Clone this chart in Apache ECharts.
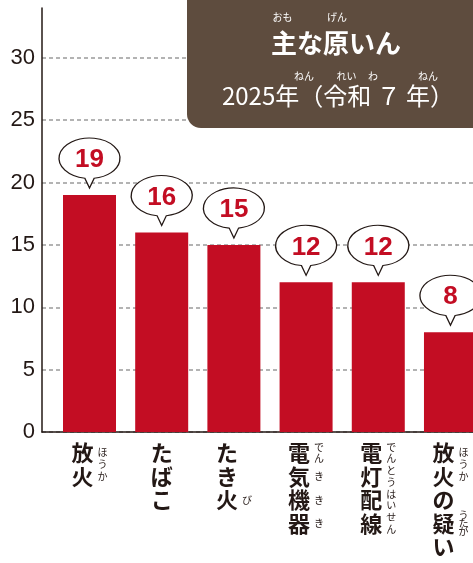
<!DOCTYPE html>
<html>
<head>
<meta charset="utf-8">
<script src="https://cdn.jsdelivr.net/npm/echarts@6/dist/echarts.min.js"></script>
<style>
html, body { margin: 0; padding: 0; background: #fff; }
#chart { width: 473px; height: 563px; }
</style>
</head>
<body>
<div id="chart"></div>
<script>
// 出火原因の件数
var categories = ['放火', 'たばこ', 'たき火', '電気機器', '電灯配線', '放火の疑い'];
var counts = [19, 16, 15, 12, 12, 8];
// ふりがな: [よみ, 何文字目から, 何文字目まで]
var readings = [
    [['ほうか', 0, 2]],
    [],
    [['び', 2, 3]],
    [['でん', 0, 1], ['き', 1, 2], ['き', 2, 3], ['き', 3, 4]],
    [['でんとうはいせん', 0, 4]],
    [['ほうか', 0, 2], ['うたが', 3, 4]]
];
var yTicks = [0, 5, 10, 15, 20, 25, 30];

var RED = '#c30d23';
var INK = '#231815';
var JP = '"Noto Sans CJK JP", sans-serif';
var LINE = 23.5;      // 縦書きラベルの行送り
var MARGIN = 9;
var BUBBLE = 'path://M25.5,40.3A29.5,20,0,1,1,34.5,40.3L30,50Z';

var chart = echarts.init(document.getElementById('chart'));
var barData = counts.map(function (v, i) { return [i, v]; });

var option = {
    animation: false,
    grid: { left: 42, right: 0, top: 8, bottom: 131 },
    xAxis: {
        type: 'value',
        min: -0.658,
        max: 5.312,
        axisLine: { show: true, onZero: false, lineStyle: { color: INK, width: 1.5 } },
        axisTick: { show: false },
        splitLine: { show: false },
        axisLabel: {
            customValues: categories.map(function (c, i) { return i; }),
            margin: MARGIN,
            verticalAlign: 'top',
            formatter: function (v) {
                var name = categories[v];
                if (!name) return '';
                var key = readings[v].length ? 'r' : 'c';
                return '{' + key + '|' + name.split('').join('\n') + '}';
            },
            rich: {
                r: { fontSize: 22, fontWeight: 'bold', fontFamily: JP, color: INK, lineHeight: LINE, padding: [0, 14, 0, 0] },
                c: { fontSize: 22, fontWeight: 'bold', fontFamily: JP, color: INK, lineHeight: LINE }
            }
        }
    },
    yAxis: {
        type: 'value',
        min: 0,
        max: 34,
        interval: 5,
        axisLine: { show: true, onZero: false, lineStyle: { color: INK, width: 1.5 } },
        axisTick: { show: false },
        splitLine: {
            show: true,
            showMaxLine: false,
            lineStyle: { type: [4, 3], color: '#9a9a9a', width: 1.5 }
        },
        axisLabel: {
            customValues: yTicks,
            margin: 7,
            fontSize: 22,
            color: INK,
            fontFamily: '"Liberation Sans", Arial, sans-serif'
        }
    },
    series: [
        {
            type: 'bar',
            data: barData,
            barWidth: 53,
            itemStyle: { color: RED },
            z: 2
        },
        {
            // 吹き出し
            type: 'scatter',
            data: barData,
            symbol: BUBBLE,
            symbolSize: [61, 50],
            symbolOffset: [0, -32],
            clip: false,
            itemStyle: { color: '#fff', borderColor: INK, borderWidth: 1.2, opacity: 1 },
            label: {
                show: true,
                position: 'inside',
                offset: [0, -3],
                formatter: function (p) { return p.value[1]; },
                color: RED,
                fontSize: 26,
                fontWeight: 'bold',
                fontFamily: '"Liberation Sans", Arial, sans-serif'
            },
            z: 3
        }
    ]
};
chart.setOption(option);

// ふりがなとタイトル
var graphics = [];
readings.forEach(function (segs, i) {
    var base = chart.convertToPixel({ gridIndex: 0 }, [i, 0]);
    var top = base[1] + MARGIN;
    segs.forEach(function (s) {
        var span = (s[2] - s[1]) * LINE;
        var lh = Math.min(12, span / s[0].length);
        graphics.push({
            type: 'text',
            x: base[0] + 13,
            y: top + (s[1] + s[2]) / 2 * LINE,
            style: {
                text: s[0].split('').join('\n'),
                font: '10px ' + JP,
                lineHeight: lh,
                fill: INK,
                align: 'center',
                verticalAlign: 'middle'
            }
        });
    });
});

function titleText(text, x, y, font) {
    return {
        type: 'text', x: x, y: y, z: 11,
        style: { text: text, font: font, fill: '#fff', align: 'center', verticalAlign: 'middle' }
    };
}
graphics.push({
    type: 'rect', z: 10,
    shape: { x: 187, y: -15, width: 300, height: 143, r: 14 },
    style: { fill: '#5e4c3e' }
});
graphics.push(titleText('主な原いん', 336, 43, 'bold 26px ' + JP));
graphics.push(titleText('2025年（令和 ７ 年）', 338, 96, '24px ' + JP));
graphics.push(titleText('おも', 282.5, 17.5, '10px ' + JP));
graphics.push(titleText('げん', 337, 17.5, '10px ' + JP));
graphics.push(titleText('ねん', 304, 76, '10px ' + JP));
graphics.push(titleText('れい', 346.5, 76, '10px ' + JP));
graphics.push(titleText('わ', 373, 76, '10px ' + JP));
graphics.push(titleText('ねん', 428, 76, '10px ' + JP));

chart.setOption({ graphic: graphics });

window.addEventListener('resize', function () {
    chart.resize();
});
</script>
</body>
</html>
